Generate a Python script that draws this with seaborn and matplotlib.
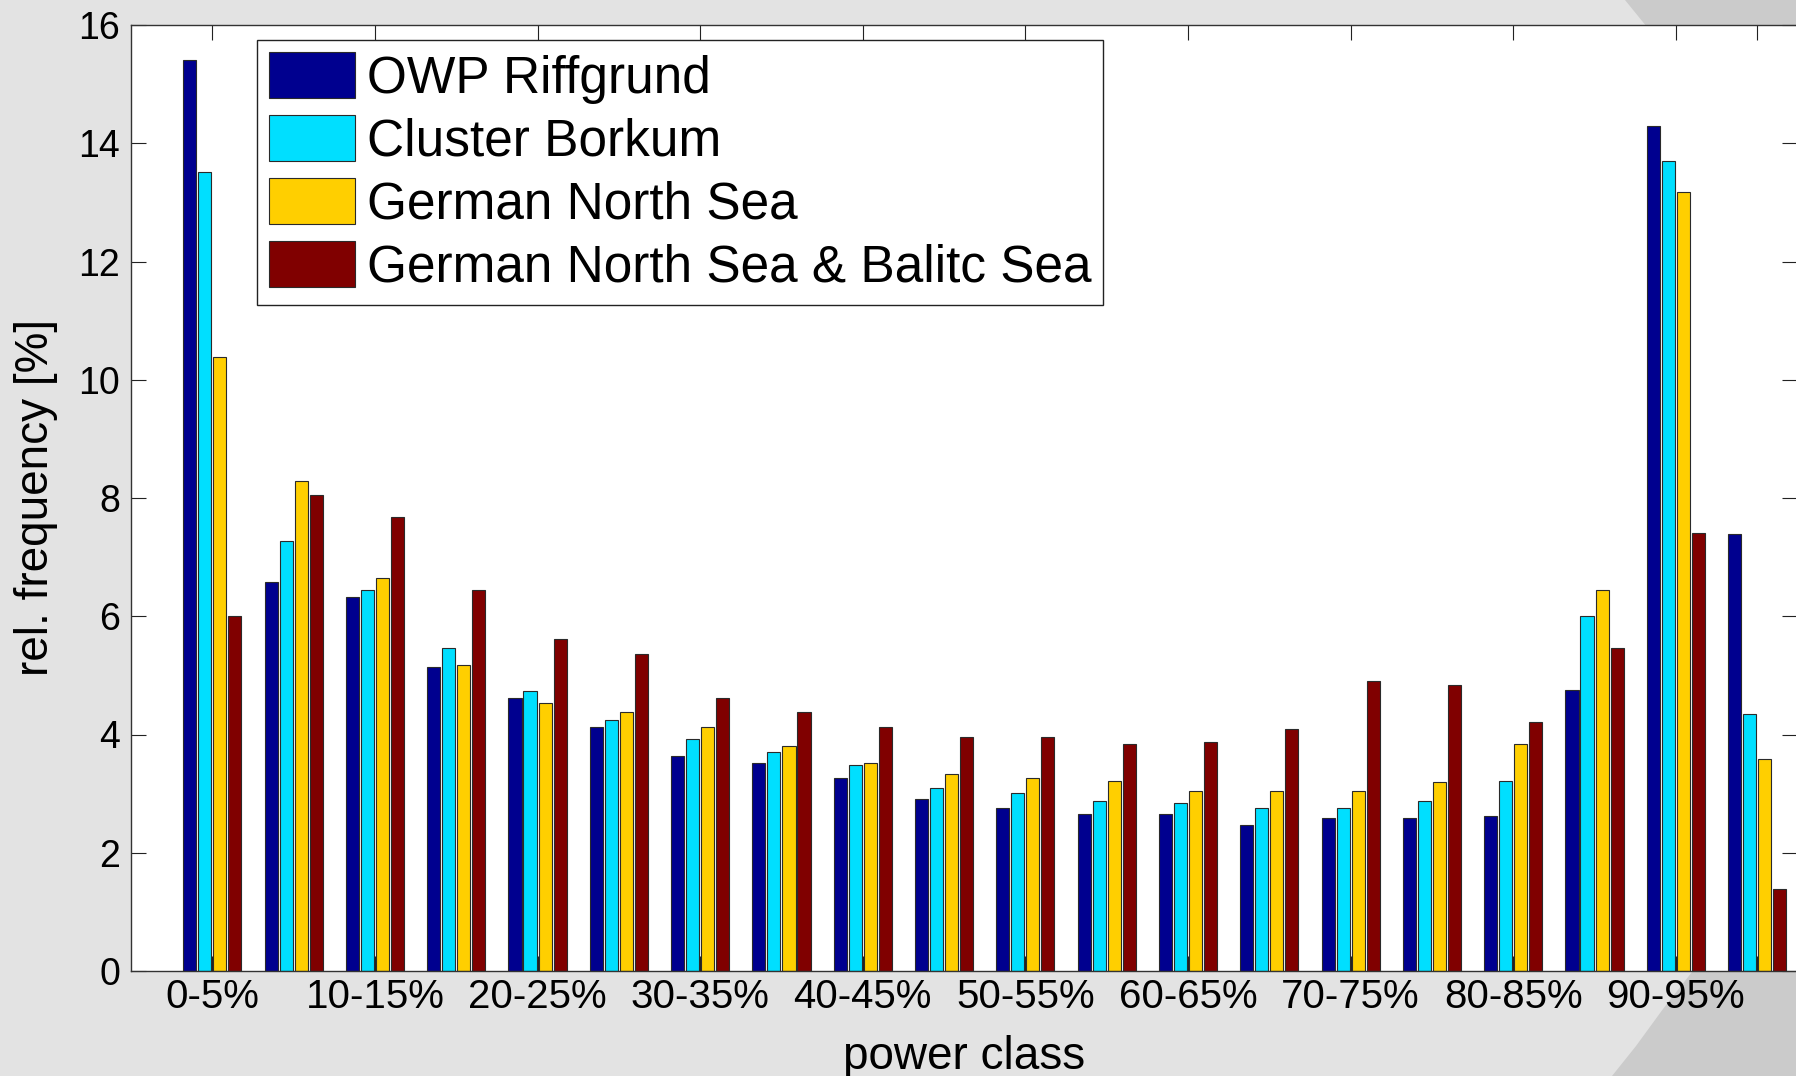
import numpy as np
import pandas as pd
import matplotlib
matplotlib.use('Agg')
import matplotlib.pyplot as plt
from matplotlib.patches import Polygon
import seaborn as sns

# power classes (5% bins) and the four data sets
power_classes = ['0-5%', '5-10%', '10-15%', '15-20%', '20-25%', '25-30%', '30-35%',
                 '35-40%', '40-45%', '45-50%', '50-55%', '55-60%', '60-65%', '65-70%',
                 '70-75%', '75-80%', '80-85%', '85-90%', '90-95%', '95-100%']
series_names = ['OWP Riffgrund', 'Cluster Borkum', 'German North Sea',
                'German North Sea & Balitc Sea']
series_colors = ['#00008f', '#00dfff', '#ffcf00', '#800000']

owp_riffgrund = [15.40, 6.58, 6.33, 5.15, 4.62, 4.13, 3.63, 3.52, 3.26, 2.91,
                 2.76, 2.66, 2.66, 2.47, 2.59, 2.59, 2.63, 4.75, 14.30, 7.39]
cluster_borkum = [13.51, 7.27, 6.44, 5.46, 4.74, 4.25, 3.92, 3.71, 3.49, 3.09,
                  3.01, 2.88, 2.84, 2.76, 2.76, 2.88, 3.22, 6.00, 13.70, 4.34]
german_north_sea = [10.39, 8.29, 6.65, 5.17, 4.53, 4.38, 4.13, 3.80, 3.52, 3.34,
                    3.26, 3.22, 3.05, 3.05, 3.05, 3.20, 3.84, 6.44, 13.18, 3.59]
north_and_baltic = [6.00, 8.05, 7.68, 6.44, 5.61, 5.36, 4.62, 4.38, 4.13, 3.96,
                    3.96, 3.84, 3.88, 4.09, 4.91, 4.83, 4.21, 5.46, 7.41, 1.39]

tick_labels = ['0-5%', '10-15%', '20-25%', '30-35%', '40-45%', '50-55%',
               '60-65%', '70-75%', '80-85%', '90-95%', '']

sns.set_style('ticks')
plt.rcParams['font.family'] = ['Liberation Sans', 'DejaVu Sans']
plt.rcParams['text.color'] = 'black'
plt.rcParams['axes.labelcolor'] = 'black'
plt.rcParams['xtick.color'] = 'black'
plt.rcParams['ytick.color'] = 'black'

# long format table for seaborn
df = pd.DataFrame({
    'power class': power_classes * 4,
    'freq': owp_riffgrund + cluster_borkum + german_north_sea + north_and_baltic,
    'series': np.repeat(series_names, len(power_classes)),
})

W, H = 1796, 1076
fig = plt.figure(figsize=(W / 100, H / 100), dpi=100, facecolor='#e3e3e3')

# darker slide decoration in the corners
def px(points):
    return [(x / W, 1 - y / H) for x, y in points]

fig.patches.append(Polygon(px([(1625, 0), (1796, 0), (1796, 80), (1690, 80)]),
                           closed=True, transform=fig.transFigure,
                           facecolor='#cbcbcb', edgecolor='none', zorder=-1))
fig.patches.append(Polygon(px([(1700, 950), (1796, 950), (1796, 1076), (1612, 1076),
                               (1636, 1046), (1663, 1009), (1692, 972)]),
                           closed=True, transform=fig.transFigure,
                           facecolor='#cbcbcb', edgecolor='none', zorder=-1))

ax = fig.add_axes([131 / W, 105 / H, 1666 / W, 946 / H])
ax.set_facecolor('white')

sns.barplot(data=df, x='power class', y='freq', hue='series', palette=series_colors,
            saturation=1, width=0.74, gap=0.13, edgecolor='#2a2a2a', linewidth=0.8,
            errorbar=None, ax=ax)

ax.set_xlim(-1, 19.49)
ax.set_ylim(0, 16)
ax.set_yticks(np.arange(0, 17, 2))
ax.set_xticks(list(range(0, 19, 2)) + [19])
ax.set_xticklabels(tick_labels)
ax.set_axisbelow(True)

ax.tick_params(axis='both', direction='in', length=10.8, width=0.8, color='#222222',
               top=True, right=True)
ax.tick_params(axis='x', labelsize=29, pad=5)
ax.tick_params(axis='y', labelsize=27, pad=8)
for s in ax.spines.values():
    s.set_color('#333333')
    s.set_linewidth(1.0)

ax.set_xlabel('power class', fontsize=33)
ax.set_ylabel('rel. frequency [%]', fontsize=33)
ax.xaxis.set_label_coords(0.5, -0.068)
ax.yaxis.set_label_coords(-0.0438, 0.5)

old = ax.get_legend()
handles = old.legend_handles
labels = [t.get_text() for t in old.get_texts()]
leg = ax.legend(handles, labels, loc='upper left',
                bbox_to_anchor=((256.6 - 131) / 1666, (971 - 40) / 946),
                borderaxespad=0, fontsize=37, frameon=True, fancybox=False,
                handlelength=1.68, handleheight=1.0, handletextpad=0.22,
                labelspacing=0.22, borderpad=0.24)
leg.get_frame().set_edgecolor('#222222')
leg.get_frame().set_linewidth(1.0)
leg.get_frame().set_facecolor('white')
leg.get_frame().set_alpha(1)

fig.savefig('out.png', dpi=100, facecolor=fig.get_facecolor())
